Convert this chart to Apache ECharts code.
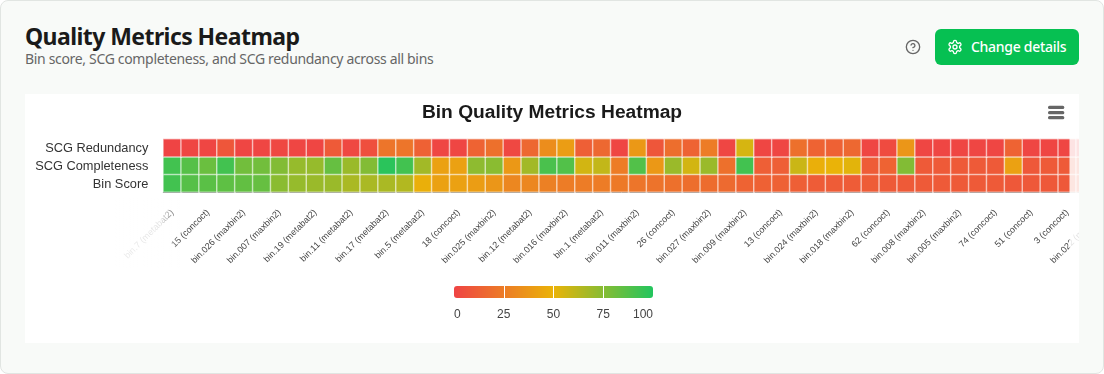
<!DOCTYPE html>
<html><head><meta charset="utf-8">
<script src="https://cdn.jsdelivr.net/npm/echarts@6/dist/echarts.min.js"></script>
<style>
html,body{margin:0;padding:0;background:#fff;width:1104px;height:374px;overflow:hidden}
#card{position:absolute;left:0;top:0;width:1102px;height:372px;border:1px solid #e1e5e2;border-radius:8px;background:#f8faf8}
#h1{position:absolute;left:25px;top:19px;font:700 23px "Noto Sans",sans-serif;letter-spacing:-.57px;color:#1a1a1a;line-height:34px;white-space:nowrap}
#h2{position:absolute;left:25px;top:49px;font:400 14px "Noto Sans",sans-serif;letter-spacing:-.33px;color:#666;line-height:20px;white-space:nowrap}
#help{position:absolute;left:905px;top:39px}
#btn{position:absolute;left:935px;top:29px;width:144px;height:36px;background:#06c052;border-radius:6px;color:#fff;font:500 14px "Noto Sans",sans-serif;letter-spacing:-.28px;line-height:36px}
#btn svg{position:absolute;left:12px;top:10px}
#btn span{position:absolute;left:36px;white-space:nowrap}
#chart{position:absolute;left:25px;top:94px;width:1054px;height:249px;background:#fff}
</style></head><body>
<div id="card"></div>
<div id="h1">Quality Metrics Heatmap</div>
<div id="h2">Bin score, SCG completeness, and SCG redundancy across all bins</div>
<svg id="help" width="16" height="16" viewBox="0 0 24 24" fill="none" stroke="#666" stroke-width="2" stroke-linecap="round" stroke-linejoin="round"><circle cx="12" cy="12" r="10"/><path d="M9.09 9a3 3 0 0 1 5.83 1c0 2-3 3-3 3"/><path d="M12 17h.01"/></svg>
<div id="btn"><svg width="16" height="16" viewBox="0 0 24 24" fill="none" stroke="#fff" stroke-width="2" stroke-linecap="round" stroke-linejoin="round"><path d="M12.22 2h-.44a2 2 0 0 0-2 2v.18a2 2 0 0 1-1 1.73l-.43.25a2 2 0 0 1-2 0l-.15-.08a2 2 0 0 0-2.73.73l-.22.38a2 2 0 0 0 .73 2.73l.15.1a2 2 0 0 1 1 1.72v.51a2 2 0 0 1-1 1.74l-.15.09a2 2 0 0 0-.73 2.73l.22.38a2 2 0 0 0 2.73.73l.15-.08a2 2 0 0 1 2 0l.43.25a2 2 0 0 1 1 1.73V20a2 2 0 0 0 2 2h.44a2 2 0 0 0 2-2v-.18a2 2 0 0 1 1-1.73l.43-.25a2 2 0 0 1 2 0l.15.08a2 2 0 0 0 2.73-.73l.22-.39a2 2 0 0 0-.73-2.73l-.15-.08a2 2 0 0 1-1-1.74v-.5a2 2 0 0 1 1-1.74l.15-.09a2 2 0 0 0 .73-2.73l-.22-.38a2 2 0 0 0-2.73-.73l-.15.08a2 2 0 0 1-2 0l-.43-.25a2 2 0 0 1-1-1.73V4a2 2 0 0 0-2-2z"/><circle cx="12" cy="12" r="3"/></svg><span>Change details</span></div>
<div id="chart"></div>
<script>
// every other bin's label is hidden in the reference, so those names are unknown and left blank
const bins=["bin.7 (metabat2)","","15 (concoct)","","bin.026 (maxbin2)","","bin.007 (maxbin2)","","bin.19 (metabat2)","","bin.11 (metabat2)","","bin.17 (metabat2)","","bin.5 (metabat2)","","18 (concoct)","","bin.025 (maxbin2)","","bin.12 (metabat2)","","bin.016 (maxbin2)","","bin.1 (metabat2)","","bin.011 (maxbin2)","","26 (concoct)","","bin.027 (maxbin2)","","bin.009 (maxbin2)","","13 (concoct)","","bin.024 (maxbin2)","","bin.018 (maxbin2)","","62 (concoct)","","bin.008 (maxbin2)","","bin.005 (maxbin2)","","74 (concoct)","","51 (concoct)","","3 (concoct)","","bin.022 (maxbin2)"];
const metrics=["Bin Score","SCG Completeness","SCG Redundancy"];
const binScore=[92,87,86,85,84,83,74,71,70,70,66,66,66,64,48,42,42,40,37,30,30,27,25,25,25,24,22,21,20,19,18,17,14,13,13,12,11,11,11,11,10,10,10,10,10,10,10,9,9,9,9,9,9];
const completeness=[92,87,82,92,80,80,76,71,71,83,70,76,98,92,68,42,42,73,74,38,68,90,88,56,60,25,88,38,70,56,70,20,92,12,12,58,48,50,52,11,14,76,10,10,10,10,10,42,9,10,10,10,10];
const redundancy=[0,1,1,8,1,1,2,1,1,10,2,5,22,22,13,1,1,14,20,2,16,33,40,12,16,1,38,8,19,14,25,1,55,1,1,20,14,13,16,1,3,37,1,1,1,1,1,14,1,1,1,1,1];
const legendTicks=[25,50,75];
const scaleColors=["#ef4444","#eab308","#22c55e"];
const data=[];
[binScore,completeness,redundancy].forEach((r,y)=>r.forEach((v,x)=>data.push([x,y,v])));
const cell=17.9;
const chart=echarts.init(document.getElementById('chart'),null,{renderer:'canvas'});
chart.setOption({
  animation:false,
  title:{text:'Bin Quality Metrics Heatmap',left:'center',top:4,textStyle:{fontFamily:'"Liberation Sans",Arial,sans-serif',fontSize:19.2,fontWeight:'bold',color:'#1a1a1a'}},
  grid:[{left:138.3,top:45,height:53,width:cell*bins.length,outerBoundsMode:'none'},{left:429,top:192,width:199,height:12,outerBoundsMode:'none'}],
  xAxis:[{type:'category',data:bins,gridIndex:0,splitArea:{show:false},axisTick:{show:false},
    axisLine:{lineStyle:{color:'#333',width:1}},
    axisLabel:{interval:1,rotate:45,margin:19,fontSize:9,color:'#444',fontFamily:'"Liberation Sans",Arial,sans-serif',hideOverlap:false}},
   {type:'value',gridIndex:1,min:0,max:100,interval:25,axisLine:{show:false},axisTick:{show:false},splitLine:{show:false},
    axisLabel:{margin:11,fontSize:12,color:'#444',fontFamily:'"Liberation Sans",Arial,sans-serif',alignMinLabel:'left',alignMaxLabel:'right'}}],
  yAxis:[{type:'category',data:metrics,gridIndex:0,axisLine:{show:false},axisTick:{show:false},splitArea:{show:false},
    axisLabel:{margin:15,fontSize:12.8,color:'#333',verticalAlign:'top',lineHeight:2,fontFamily:'"Liberation Sans",Arial,sans-serif'}},
   {type:'category',data:[''],gridIndex:1,show:false}],
  visualMap:{show:false,min:0,max:100,seriesIndex:0,dimension:2,inRange:{color:scaleColors}},
  series:[{type:'heatmap',data,xAxisIndex:0,yAxisIndex:0,itemStyle:{borderColor:'rgba(255,255,255,0.55)',borderWidth:1.5},emphasis:{disabled:true}},
   {type:'bar',xAxisIndex:1,yAxisIndex:1,data:[100],barWidth:12,silent:true,
    itemStyle:{borderRadius:3,color:new echarts.graphic.LinearGradient(0,0,1,0,[{offset:0,color:scaleColors[0]},{offset:.5,color:scaleColors[1]},{offset:1,color:scaleColors[2]}])},
    markLine:{silent:true,symbol:'none',label:{show:false},animation:false,lineStyle:{color:'#fff',width:1,type:'solid'},data:legendTicks.map(t=>({xAxis:t}))}}],
  graphic:[
    {type:'rect',z:100,silent:true,shape:{x:1044.5,y:30,width:10,height:170},style:{fill:'rgba(255,255,255,0.85)'}},
    {type:'rect',z:100,silent:true,shape:{x:90,y:104,width:65,height:70},style:{fill:new echarts.graphic.LinearGradient(0,0,1,0,[{offset:0,color:'rgba(255,255,255,0.9)'},{offset:.7,color:'rgba(255,255,255,0.85)'},{offset:1,color:'rgba(255,255,255,0)'}])}},
    ...[11.7,17,22].map(y=>({type:'rect',z:100,silent:true,shape:{x:1023,y,width:16.3,height:3.2,r:1.5},style:{fill:'#666'}}))
  ]
});
</script>
</body></html>
